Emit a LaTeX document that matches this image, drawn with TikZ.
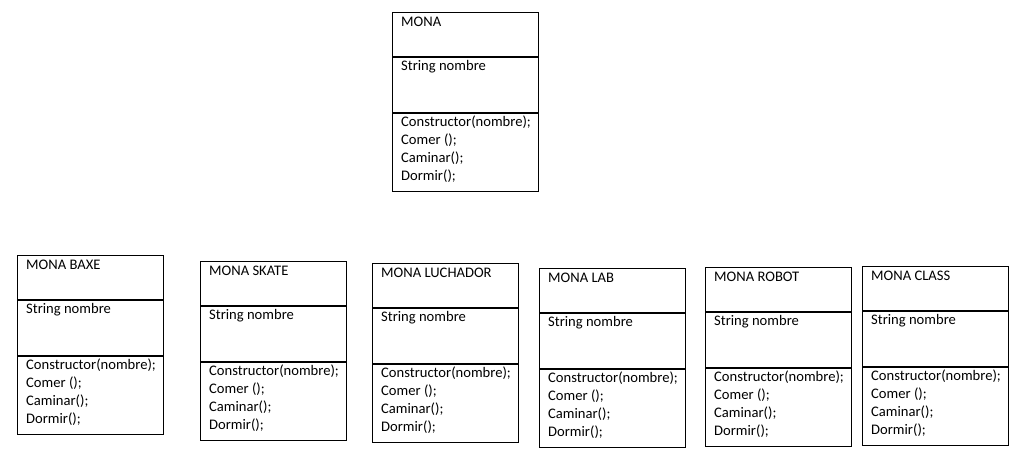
\documentclass[tikz,border=0pt]{standalone}
\usepackage{fontspec}
\setmainfont{Carlito}
\begin{document}
\begin{tikzpicture}[
		x=1pt, y=-1pt,
		cell/.style = {draw, line width=0.8pt, minimum width=146, inner sep=0, anchor=north west},
		txt/.style = {anchor=base west, inner sep=0, font=\fontsize{14.6}{18}\selectfont},
	]
	\useasboundingbox (0,0) rectangle (1028,456);
	\foreach \n/\x/\y/\t in {mona/392/12/MONA, baxe/17/255/MONA BAXE, skate/200/261/MONA SKATE,
			luchador/372/263/MONA LUCHADOR, lab/539/268/MONA LAB, robot/705/267/MONA ROBOT,
			class/862/266/MONA CLASS} {
			\node[cell, minimum height=44] (\n-name) at (\x,\y) {};
			\node[cell, minimum height=55] (\n-attr) at (\n-name.south west) {};
			\node[cell, minimum height=78] (\n-ops) at (\n-attr.south west) {};
			\node[txt] (\n-title) at ([shift={(9,14)}]\n-name.north west) {\t};
			\node[txt] (\n-field) at ([shift={(9,14)}]\n-attr.north west) {String nombre};
			\foreach \m [count=\k] in {Constructor(nombre);, Comer ();, Caminar();, Dormir();}
			\node[txt] (\n-op\k) at ([shift={(9,14+18*(\k-1))}]\n-ops.north west) {\m};
		}
\end{tikzpicture}
\end{document}
